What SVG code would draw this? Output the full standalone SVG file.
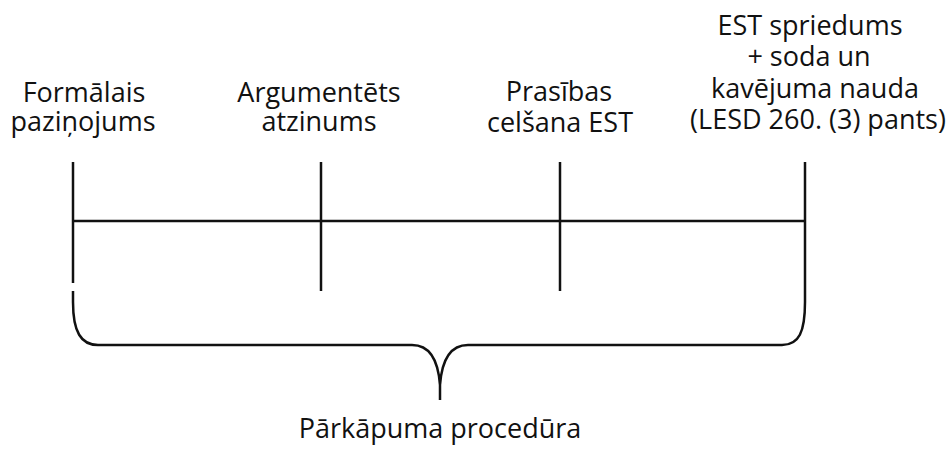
<svg xmlns="http://www.w3.org/2000/svg" width="949" height="452" viewBox="0 0 949 452">
<style>
  .t { font-family: "Open Sans", "Noto Sans", sans-serif; font-size: 27px; fill: #111; text-anchor: middle; }
  .ln { stroke: #111; stroke-width: 2.5; fill: none; }
</style>
<rect width="949" height="452" fill="#fff"/>
<g id="connectors">
  <line class="ln" x1="73" y1="221" x2="805" y2="221" stroke-width="2.2"/>
  <line class="ln" x1="73" y1="162" x2="73" y2="283"/>
  <line class="ln" x1="321" y1="162" x2="321" y2="291"/>
  <line class="ln" x1="560" y1="162" x2="560" y2="291"/>
  <line class="ln" x1="805" y1="162" x2="805" y2="291"/>
</g>
<g id="brace">
  <path class="ln" d="M73,291 L73,302 C73,332 81,345 98,345 L412,345 C428,345 438,358 440,385 L440,400 M440,385 C442,358 452,345 468,345 L782,345 C799,345 805,332 805,302 L805,291"/>
</g>
<g id="node-formalais">
  <text class="t" x="84" y="102">Formālais</text>
  <text class="t" x="83" y="131">paziņojums</text>
</g>
<g id="node-argumentets">
  <text class="t" x="319" y="102">Argumentēts</text>
  <text class="t" x="319" y="131">atzinums</text>
</g>
<g id="node-prasibas">
  <text class="t" x="559" y="101">Prasības</text>
  <text class="t" x="560" y="132">celšana EST</text>
</g>
<g id="node-est">
  <text class="t" x="810" y="35">EST spriedums</text>
  <text class="t" x="809" y="66">+ soda un</text>
  <text class="t" x="815" y="98">kavējuma nauda</text>
  <text class="t" x="818" y="129">(LESD 260. (3) pants)</text>
</g>
<g id="label">
  <text class="t" x="440" y="438">Pārkāpuma procedūra</text>
</g>
</svg>
